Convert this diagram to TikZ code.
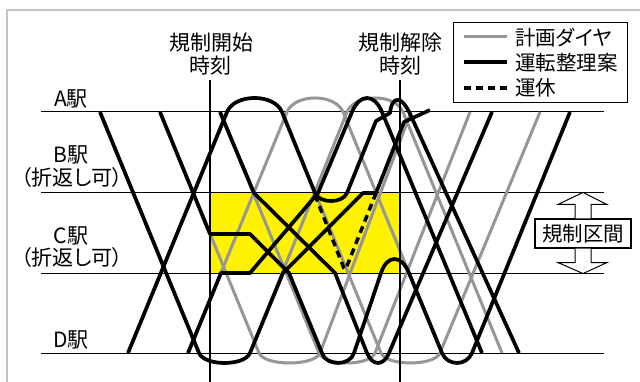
\documentclass[tikz,border=0pt]{standalone}
\usepackage{fontspec}
\setmainfont{Noto Sans CJK JP}[RawFeature=+palt]
\usetikzlibrary{calc}
\definecolor{plancol}{RGB}{150,150,150}
\definecolor{regy}{RGB}{255,242,0}
\definecolor{framecol}{RGB}{195,195,195}
\begin{document}
\begin{tikzpicture}[x=1pt,y=-1pt,
  plantrain/.style={draw=plancol, line width=3pt, line join=round},
  runtrain/.style={draw=black, line width=3.7pt, line join=round},
  canceltrain/.style={draw=black, line width=3.5pt, dash pattern=on 7pt off 5pt},
  stationline/.style={draw=black, line width=1pt},
  timeline/.style={draw=black, line width=1.7pt},
  lbl/.style={inner sep=0pt, font=\fontsize{21}{24}\selectfont},
  leglbl/.style={inner sep=0pt, anchor=west, font=\fontsize{20.5}{24}\selectfont},
  blockarrow/.style={draw=black, fill=white, line width=1pt, line join=miter}
]
\useasboundingbox (0,0) rectangle (640,382);
\fill[white] (0,0) rectangle (640,382);
\draw[framecol, line width=1.5pt] (7,382) -- (7,10) -- (640,10);

% regulated section
\fill[regy] (210,193) rectangle (400,273);

% station lines
\coordinate (aL) at (41,112); \coordinate (aR) at (604,112);
\coordinate (bL) at (41,193); \coordinate (bR) at (604,193);
\coordinate (cL) at (41,273); \coordinate (cR) at (604,273);
\coordinate (dL) at (41,353); \coordinate (dR) at (604,353);
\draw[stationline] (aL) -- (aR);
\draw[stationline] (bL) -- (bR);
\draw[stationline] (cL) -- (cR);
\draw[stationline] (dL) -- (dR);

% planned diagram (grey)
\draw[plantrain] (100,112) -- (199,353) .. controls (204.5,366.3) and (244.5,366.3) .. (250,353) -- (347,112) .. controls (354.7,93.3) and (395.3,93.3) .. (403,112) -- (502,353);
\draw[plantrain] (160,112) -- (259,353) .. controls (264.5,366.3) and (314.5,366.3) .. (320,353) -- (411,112);
\draw[plantrain] (128,353) -- (227,112) .. controls (234.7,93.3) and (274.3,93.3) .. (282,112) -- (381,353) .. controls (386.5,366.3) and (434.5,366.3) .. (440,353) -- (540,112);
\draw[plantrain] (188,353) -- (287,112) .. controls (294.7,93.3) and (335.3,93.3) .. (343,112) -- (442,353);
\draw[plantrain] (220,112) -- (319,353) .. controls (324.5,366.3) and (369.5,366.3) .. (375,353) -- (470,112);

% rescheduled diagram (black)
\draw[runtrain] (100,112) -- (199,353) .. controls (204.5,366.3) and (244.5,366.3) .. (250,353) -- (283,273) -- (363,193) -- (376,193) -- (404,122) -- (430,110);
\draw[runtrain] (160,112) -- (210,234) -- (250,234) -- (289,273) -- (322,353) .. controls (326,366.3) and (350,366.3) .. (354,353) -- (381,273) .. controls (387.3,254.3) and (401.3,254.3) .. (409,273) -- (442,353) .. controls (447.5,366.3) and (466.5,366.3) .. (472,353) -- (570,112);
\draw[runtrain] (128,353) -- (227,112) .. controls (234.7,93.3) and (274.3,93.3) .. (282,112) -- (315,193) .. controls (319.4,203.7) and (342.6,203.7) .. (347,193) -- (376,121) -- (390,113) .. controls (392,95) and (402,95) .. (411,116) -- (519,353);
\draw[runtrain] (188,353) -- (221,273) -- (250,273) -- (318,193) -- (352,112) .. controls (359.7,93.3) and (374.3,93.3) .. (382,112) -- (482,353);
\draw[runtrain] (220,112) -- (254,193) -- (335,273) -- (367,353) .. controls (372.5,366.3) and (383.5,366.3) .. (389,353) -- (492,112);

% cancelled
\draw[canceltrain, rounded corners=3pt] (315,195) -- (345,271) -- (376,193);

% regulation start / end
\draw[timeline] (210,80) -- (210,382);
\draw[timeline] (400,80) -- (400,382);

% labels
\node[lbl] (t1a) at (211,43) {規制開始};
\node[lbl] (t1b) at (210,66) {時刻};
\node[lbl] (t2a) at (400,43) {規制解除};
\node[lbl] (t2b) at (400,66) {時刻};
\node[lbl] (sa) at (71,99) {A駅};
\node[lbl] (sb) at (71,155) {B駅};
\node[lbl] (sb2) at (72,178) {（折返し可）};
\node[lbl] (sc) at (71,236) {C駅};
\node[lbl] (sc2) at (72,258) {（折返し可）};
\node[lbl] (sd) at (71,340) {D駅};

% legend
\node[draw, line width=1.1pt, minimum width=174pt, minimum height=80pt, inner sep=0pt, anchor=north west] (legend) at (453,22) {};
\draw[plantrain] (464,37) -- (507,37);
\draw[runtrain] (464,62) -- (507,62);
\draw[canceltrain] (464,88) -- (507,88);
\node[leglbl] (lg1) at (515,38) {計画ダイヤ};
\node[leglbl] (lg2) at (515,63) {運転整理案};
\node[leglbl] (lg3) at (515,88) {運休};

% regulated section marker
\node[draw, fill=white, line width=1.1pt, minimum width=96pt, minimum height=29pt, inner sep=0pt, font=\fontsize{20.5}{24}\selectfont] (kukan) at (583,233.5) {規制区間};
\draw[blockarrow] ($(kukan.north)+(-8,0)$) -- ($(kukan.north)+(-8,-14)$) -- ($(kukan.north)+(-25,-14)$) -- ($(kukan.north)+(0,-26)$) -- ($(kukan.north)+(24,-14)$) -- ($(kukan.north)+(8,-14)$) -- ($(kukan.north)+(8,0)$);
\draw[blockarrow] ($(kukan.south)+(-8,0)$) -- ($(kukan.south)+(-8,14)$) -- ($(kukan.south)+(-25,14)$) -- ($(kukan.south)+(0,25)$) -- ($(kukan.south)+(24,14)$) -- ($(kukan.south)+(8,14)$) -- ($(kukan.south)+(8,0)$);
\end{tikzpicture}
\end{document}
